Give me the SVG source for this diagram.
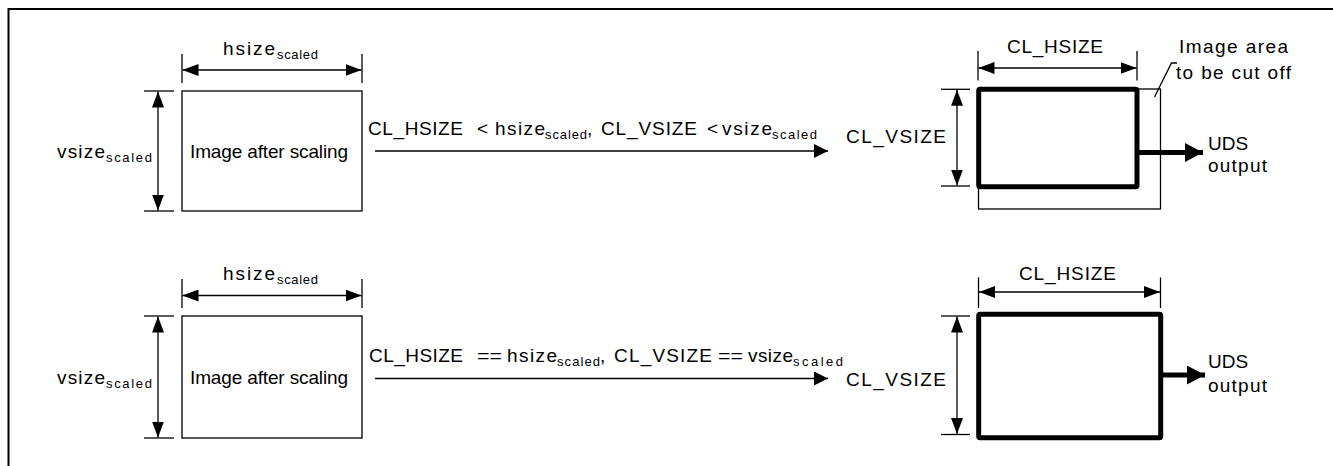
<svg xmlns="http://www.w3.org/2000/svg" width="1333" height="466" viewBox="0 0 1333 466">
<style>
  text { font-family: "Liberation Sans", Arial, sans-serif; fill: #000; }
  .t { font-size: 19px; }
  .s { font-size: 13px; }
  .thin { fill: none; stroke: #000; stroke-width: 1.3; }
  .thick { fill: none; stroke: #000; stroke-width: 5; stroke-linejoin: round; }
  .dim { fill: none; stroke: #000; stroke-width: 1.3; marker-start: url(#dimHead); marker-end: url(#dimHead); }
  .flow { fill: none; stroke: #000; stroke-width: 1.3; marker-end: url(#flowHead); }
  .out { fill: none; stroke: #000; stroke-width: 5; marker-end: url(#outHead); }
</style>
<defs>
  <marker id="dimHead" viewBox="0 0 16 12" refX="16" refY="6" markerWidth="16" markerHeight="12" markerUnits="userSpaceOnUse" orient="auto-start-reverse">
    <path d="M0,0 L16,6 L0,12 z" fill="#000"/>
  </marker>
  <marker id="flowHead" viewBox="0 0 14 14" refX="14" refY="7" markerWidth="14" markerHeight="14" markerUnits="userSpaceOnUse" orient="auto">
    <path d="M0,0 L14,7 L0,14 z" fill="#000"/>
  </marker>
  <marker id="outHead" viewBox="0 0 18 19" refX="18" refY="9.5" markerWidth="18" markerHeight="19" markerUnits="userSpaceOnUse" orient="auto">
    <path d="M0,0 L18,9.5 L0,19 z" fill="#000"/>
  </marker>
</defs>

<g id="frame">
  <path d="M8.5,466 L8.5,9 L1333,9" fill="none" stroke="#000" stroke-width="2"/>
</g>

<!-- Top row: image after scaling -->
<g id="scaled-top">
  <rect class="thin" x="182" y="91" width="180" height="120"/>
  <text class="t" x="190" y="157.5" textLength="158" lengthAdjust="spacing">Image after scaling</text>
  <line class="thin" x1="182" y1="54" x2="182" y2="83"/>
  <line class="thin" x1="362" y1="54" x2="362" y2="83"/>
  <line class="dim" x1="182.5" y1="70" x2="361.5" y2="70"/>
  <text class="t" x="223" y="55" textLength="52" lengthAdjust="spacing">hsize</text>
  <text class="s" x="277" y="59" textLength="41" lengthAdjust="spacing">scaled</text>
  <line class="thin" x1="144" y1="91" x2="174" y2="91"/>
  <line class="thin" x1="144" y1="211" x2="174" y2="211"/>
  <line class="dim" x1="158" y1="91.5" x2="158" y2="210.5"/>
  <text class="t" x="57" y="157.5" textLength="48" lengthAdjust="spacing">vsize</text>
  <text class="s" x="106" y="161.5" textLength="46" lengthAdjust="spacing">scaled</text>
</g>

<!-- Top row: UDS clipped output -->
<g id="uds-top">
  <rect class="thin" x="978.5" y="89" width="182" height="120"/>
  <rect class="thick" x="978.7" y="89.3" width="158.3" height="97.5" rx="1.5"/>
  <line class="thin" x1="978" y1="51" x2="978" y2="80.5"/>
  <line class="thin" x1="1137" y1="51" x2="1137" y2="80.5"/>
  <line class="dim" x1="978.5" y1="68" x2="1136.5" y2="68"/>
  <text class="t" x="1007" y="53" textLength="96" lengthAdjust="spacing">CL_HSIZE</text>
  <line class="thin" x1="941" y1="89.3" x2="970" y2="89.3"/>
  <line class="thin" x1="941" y1="186" x2="970" y2="186"/>
  <line class="dim" x1="957" y1="89.8" x2="957" y2="185.5"/>
  <text class="t" x="846" y="143" textLength="100" lengthAdjust="spacing">CL_VSIZE</text>
  <text class="t" x="1179" y="53" textLength="109" lengthAdjust="spacing">Image area</text>
  <text class="t" x="1176" y="79" textLength="115" lengthAdjust="spacing">to be cut off</text>
  <text class="t" x="1208" y="150">UDS</text>
  <text class="t" x="1208" y="172" textLength="59" lengthAdjust="spacing">output</text>
</g>

<!-- Bottom row: image after scaling -->
<g id="scaled-bottom">
  <rect class="thin" x="182" y="316" width="180" height="122"/>
  <text class="t" x="190" y="383.5" textLength="158" lengthAdjust="spacing">Image after scaling</text>
  <line class="thin" x1="182" y1="279" x2="182" y2="308"/>
  <line class="thin" x1="362" y1="279" x2="362" y2="308"/>
  <line class="dim" x1="182.5" y1="295.5" x2="361.5" y2="295.5"/>
  <text class="t" x="223" y="280" textLength="52" lengthAdjust="spacing">hsize</text>
  <text class="s" x="277" y="284" textLength="41" lengthAdjust="spacing">scaled</text>
  <line class="thin" x1="144" y1="316" x2="174" y2="316"/>
  <line class="thin" x1="144" y1="438" x2="174" y2="438"/>
  <line class="dim" x1="158" y1="316.5" x2="158" y2="437.5"/>
  <text class="t" x="57" y="383.5" textLength="48" lengthAdjust="spacing">vsize</text>
  <text class="s" x="106" y="387.5" textLength="46" lengthAdjust="spacing">scaled</text>
</g>

<!-- Bottom row: UDS output -->
<g id="uds-bottom">
  <rect class="thick" x="978.7" y="314.2" width="182" height="123.5" rx="1.5"/>
  <line class="thin" x1="978.5" y1="277.5" x2="978.5" y2="308"/>
  <line class="thin" x1="1160.5" y1="277.5" x2="1160.5" y2="308"/>
  <line class="dim" x1="979" y1="292" x2="1160" y2="292"/>
  <text class="t" x="1019" y="279.5" textLength="97" lengthAdjust="spacing">CL_HSIZE</text>
  <line class="thin" x1="941" y1="316" x2="970" y2="316"/>
  <line class="thin" x1="941" y1="434.5" x2="970" y2="434.5"/>
  <line class="dim" x1="957" y1="316.5" x2="957" y2="434"/>
  <text class="t" x="846" y="386" textLength="100" lengthAdjust="spacing">CL_VSIZE</text>
  <text class="t" x="1208" y="368">UDS</text>
  <text class="t" x="1208" y="392" textLength="59" lengthAdjust="spacing">output</text>
</g>

<g id="connectors">
  <line class="flow" x1="375" y1="151" x2="828" y2="151"/>
  <line class="flow" x1="375" y1="378.5" x2="828" y2="378.5"/>
  <line class="out" x1="1139" y1="152.5" x2="1203" y2="152.5"/>
  <line class="out" x1="1163" y1="375" x2="1205" y2="375"/>
  <polyline class="thin" points="1177,63 1171.5,63 1154.5,97"/>
</g>

<g id="labels">
  <text class="t" x="368" y="135" textLength="95" lengthAdjust="spacing">CL_HSIZE</text>
  <text class="t" x="477" y="135">&lt;</text>
  <text class="t" x="495" y="135" textLength="50" lengthAdjust="spacing">hsize</text>
  <text class="s" x="545" y="139" textLength="42" lengthAdjust="spacing">scaled</text>
  <text class="t" x="587" y="135">,</text>
  <text class="t" x="601" y="135" textLength="96" lengthAdjust="spacing">CL_VSIZE</text>
  <text class="t" x="707" y="135">&lt;</text>
  <text class="t" x="722" y="135" textLength="50" lengthAdjust="spacing">vsize</text>
  <text class="s" x="772" y="139" textLength="45" lengthAdjust="spacing">scaled</text>

  <text class="t" x="369" y="362" textLength="94" lengthAdjust="spacing">CL_HSIZE</text>
  <text class="t" x="477" y="362" textLength="25" lengthAdjust="spacingAndGlyphs">==</text>
  <text class="t" x="507" y="362" textLength="50" lengthAdjust="spacing">hsize</text>
  <text class="s" x="557" y="366" textLength="43" lengthAdjust="spacing">scaled</text>
  <text class="t" x="600" y="362">,</text>
  <text class="t" x="614" y="362" textLength="98" lengthAdjust="spacing">CL_VSIZE</text>
  <text class="t" x="718" y="362" textLength="25" lengthAdjust="spacingAndGlyphs">==</text>
  <text class="t" x="748" y="362" textLength="45" lengthAdjust="spacing">vsize</text>
  <text class="s" x="793" y="366" textLength="50" lengthAdjust="spacing">scaled</text>
</g>
</svg>
